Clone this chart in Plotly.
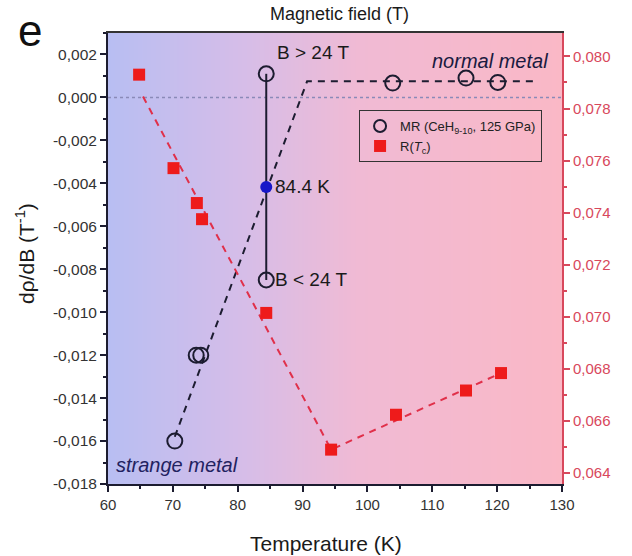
import numpy as np
import plotly.graph_objects as go

# ---- data ----
mr_T = [70.3, 73.6, 74.3, 84.4, 84.4, 103.9, 115.2, 120.1]
mr_val = [-0.0160, -0.0120, -0.0120, 0.0011, -0.0085, 0.00067, 0.00090, 0.00070]

mr_fit_T = [70.3, 90.7, 126.0]
mr_fit_val = [-0.0158, 0.00075, 0.00075]

cross_T = [84.4]
cross_val = [-0.00417]

r_T = [64.8, 70.1, 73.7, 74.5, 84.4, 94.4, 104.4, 115.2, 120.6]
r_val = [0.0793, 0.07571, 0.07437, 0.07375, 0.07015, 0.0649, 0.06624, 0.06717, 0.06784]

r_fit_T = [65.4, 94.4, 120.6]
r_fit_val = [0.07846, 0.0649, 0.06784]

x_ticks = [60, 70, 80, 90, 100, 110, 120, 130]
y_ticks = [-0.018, -0.016, -0.014, -0.012, -0.010, -0.008, -0.006, -0.004, -0.002, 0.000, 0.002]
y_ticktext = ["-0,018", "-0,016", "-0,014", "-0,012", "-0,010", "-0,008", "-0,006", "-0,004", "-0,002", "0,000", "0,002"]
y2_ticks = [0.064, 0.066, 0.068, 0.070, 0.072, 0.074, 0.076, 0.078, 0.080]
y2_ticktext = ["0,064", "0,066", "0,068", "0,070", "0,072", "0,074", "0,076", "0,078", "0,080"]

X_RANGE = [60, 130]
Y_RANGE = [-0.018, 0.0030]
Y2_RANGE = [0.06358, 0.0809]

FONT = "Liberation Sans, Arial, sans-serif"
DARK = "#1c1c30"
RED = "#ee1b1b"
REDAX = "#d8485c"

fig = go.Figure()

# background gradient (blue -> pink)
bg_x = np.linspace(X_RANGE[0], X_RANGE[1], 141)
fig.add_trace(go.Heatmap(
    x=bg_x, y=[Y_RANGE[0] - 0.001, Y_RANGE[1] + 0.001],
    z=[list(bg_x), list(bg_x)],
    colorscale=[[0, "rgb(184,190,242)"], [0.3, "rgb(214,189,232)"],
                [0.55, "rgb(240,186,212)"], [1, "rgb(250,184,198)"]],
    showscale=False, hoverinfo="skip", zsmooth="best"))

# zero dotted line
fig.add_trace(go.Scatter(x=X_RANGE, y=[0, 0], mode="lines",
                         line=dict(color="#8a8ab8", width=1.5, dash="dot"),
                         showlegend=False, hoverinfo="skip"))

# MR guide line
fig.add_trace(go.Scatter(x=mr_fit_T, y=mr_fit_val, mode="lines",
                         line=dict(color=DARK, width=2, dash="7px,6px"),
                         showlegend=False, hoverinfo="skip"))

# vertical connector at 84.4 K
fig.add_trace(go.Scatter(x=[mr_T[3], mr_T[4]], y=[mr_val[3], mr_val[4]], mode="lines",
                         line=dict(color=DARK, width=2),
                         showlegend=False, hoverinfo="skip"))

fig.add_trace(go.Scatter(x=mr_T, y=mr_val, mode="markers",
                         marker=dict(symbol="circle-open", size=15, color=DARK, line=dict(width=2, color=DARK)),
                         name="MR (CeH<sub>9-10</sub>, 125 GPa)"))

fig.add_trace(go.Scatter(x=cross_T, y=cross_val, mode="markers",
                         marker=dict(symbol="circle", size=12, color="#1717c8"),
                         showlegend=False))

# R(Tc) on right axis
fig.add_trace(go.Scatter(x=r_fit_T, y=r_fit_val, mode="lines", yaxis="y2",
                         line=dict(color="#e0304a", width=2, dash="7px,6px"),
                         showlegend=False, hoverinfo="skip"))
fig.add_trace(go.Scatter(x=r_T, y=r_val, mode="markers", yaxis="y2",
                         marker=dict(symbol="square", size=12, color=RED),
                         name="R(<i>T</i><sub>c</sub>)"))

fig.update_layout(
    width=632, height=556,
    margin=dict(l=108, r=70, t=33, b=72),
    paper_bgcolor="white", plot_bgcolor="white",
    font=dict(family=FONT, size=14, color="#222"),
    xaxis=dict(range=X_RANGE, tickvals=x_ticks, ticks="outside", ticklen=6, tickwidth=1.5,
               tickcolor=DARK, showline=True, linecolor=DARK, linewidth=2, mirror=False,
               showgrid=False, zeroline=False, tickfont=dict(size=15, color="#333"),
               minor=dict(dtick=5, tick0=0, ticks="outside", ticklen=3, tickcolor=DARK, showgrid=False)),
    xaxis2=dict(range=X_RANGE, overlaying="x", side="top", showline=True, linecolor="#333",
                linewidth=1.5, showticklabels=False, ticks="", showgrid=False, zeroline=False),
    yaxis=dict(range=Y_RANGE, tickvals=y_ticks, ticktext=y_ticktext, ticks="outside", ticklen=6,
               tickwidth=1.5, tickcolor=DARK, showline=True, linecolor=DARK, linewidth=2,
               showgrid=False, zeroline=False, tickfont=dict(size=15.5, color="#333"),
               minor=dict(dtick=0.001, tick0=0, ticks="outside", ticklen=3, tickcolor=DARK, showgrid=False)),
    yaxis2=dict(range=Y2_RANGE, overlaying="y", side="right", tickvals=y2_ticks, ticktext=y2_ticktext,
                ticks="outside", ticklen=6, tickwidth=1.5, tickcolor=REDAX, showline=True,
                linecolor=REDAX, linewidth=2, showgrid=False, zeroline=False,
                tickfont=dict(size=15, color=REDAX),
                minor=dict(dtick=0.001, tick0=0, ticks="outside", ticklen=3, tickcolor=REDAX, showgrid=False)),
    legend=dict(x=0.553, y=0.829, xanchor="left", yanchor="top", bgcolor="rgba(0,0,0,0)",
                bordercolor="#333", borderwidth=1, font=dict(size=13, color="#222"),
                tracegroupgap=0, itemsizing="constant"),
    showlegend=True,
)

# dummy trace to activate top axis line
fig.add_trace(go.Scatter(x=[None], y=[None], xaxis="x2", showlegend=False, hoverinfo="skip"))

ann = [
    dict(text="B > 24 T", x=85.7, y=0.00207, xref="x", yref="y", xanchor="left", yanchor="middle",
         showarrow=False, font=dict(size=19, color="#1a1a1a")),
    dict(text="84.4 K", x=85.5, y=-0.00417, xref="x", yref="y", xanchor="left", yanchor="middle",
         showarrow=False, font=dict(size=19, color="#1a1a1a")),
    dict(text="B < 24 T", x=85.5, y=-0.0085, xref="x", yref="y", xanchor="left", yanchor="middle",
         showarrow=False, font=dict(size=19, color="#1a1a1a")),
    dict(text="<i>normal metal</i>", x=128.2, y=0.00168, xref="x", yref="y", xanchor="right",
         yanchor="middle", showarrow=False, font=dict(size=20, color="#1a1a40")),
    dict(text="<i>strange metal</i>", x=61.0, y=-0.0171, xref="x", yref="y", xanchor="left",
         yanchor="middle", showarrow=False, font=dict(size=20, color="#222260")),
    dict(text="Magnetic field (T)", x=0.511, y=1.042, xref="paper", yref="paper", xanchor="center",
         yanchor="middle", showarrow=False, font=dict(size=18, color="#1a1a1a")),
    dict(text="e", x=-0.172, y=1.005, xref="paper", yref="paper", xanchor="center",
         yanchor="middle", showarrow=False, font=dict(size=44, color="#111")),
    dict(text="dρ/dB (T<sup>-1</sup>)", x=-0.183, y=0.512, xref="paper", yref="paper",
         xanchor="center", yanchor="middle", textangle=-90, showarrow=False,
         font=dict(size=21, color="#1a1a1a")),
    dict(text="Temperature (K)", x=0.48, y=-0.131, xref="paper", yref="paper", xanchor="center",
         yanchor="middle", showarrow=False, font=dict(size=21, color="#1a1a1a")),
]
fig.update_layout(annotations=ann)

fig.write_html("out.html")
